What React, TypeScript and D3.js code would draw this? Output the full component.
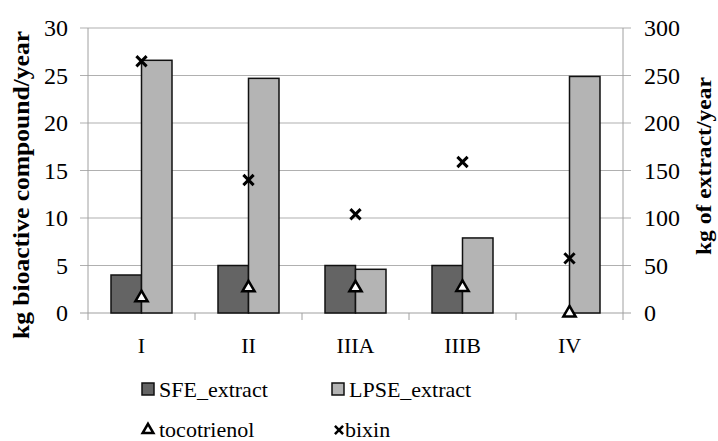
import { useEffect, useRef } from 'react';
import * as d3 from 'd3';

const categories = ['I', 'II', 'IIIA', 'IIIB', 'IV'];
const sfeExtract = [40, 50, 50, 50, 0];
const lpseExtract = [266, 247, 46, 79, 249];
const tocotrienol = [1.6, 2.65, 2.65, 2.7, 0];
const bixin = [26.5, 14.0, 10.4, 15.9, 5.75];
const leftTicks = [0, 5, 10, 15, 20, 25, 30];
const rightTicks = [0, 50, 100, 150, 200, 250, 300];

const App = () => {
	const ref = useRef<SVGSVGElement>(null);

	useEffect(() => {
		const width = 718,
			height = 441;
		const margin = { top: 28, right: 95, bottom: 128, left: 88 };
		const svg = d3.select(ref.current).attr('width', width).attr('height', height);
		svg.selectAll('*').remove();

		const x = d3
			.scaleBand()
			.domain(categories)
			.range([margin.left, width - margin.right]);
		const yL = d3
			.scaleLinear()
			.domain([0, 30])
			.range([height - margin.bottom, margin.top]);
		const yR = d3
			.scaleLinear()
			.domain([0, 300])
			.range([height - margin.bottom, margin.top]);
		const x0 = margin.left,
			x1 = width - margin.right,
			y0 = yL(0);

		// gridlines
		svg
			.append('g')
			.selectAll('line')
			.data(leftTicks.slice(1))
			.join('line')
			.attr('x1', x0 - 8)
			.attr('x2', x1 + 8)
			.attr('y1', (d) => yL(d))
			.attr('y2', (d) => yL(d))
			.attr('stroke', '#b0b0b0')
			.attr('stroke-width', 1.2);

		// axes
		const axisColor = '#a0a0a0';
		svg.append('line').attr('x1', x0).attr('x2', x0).attr('y1', yL(30)).attr('y2', y0).attr('stroke', axisColor);
		svg.append('line').attr('x1', x1).attr('x2', x1).attr('y1', yL(30)).attr('y2', y0).attr('stroke', axisColor);
		svg.append('line').attr('x1', x0 - 8).attr('x2', x1 + 8).attr('y1', y0).attr('y2', y0).attr('stroke', axisColor).attr('stroke-width', 1.2);

		// category ticks
		const bounds = categories.map((c) => x(c)!).concat([x1]);
		svg
			.append('g')
			.selectAll('line')
			.data(bounds)
			.join('line')
			.attr('x1', (d) => d)
			.attr('x2', (d) => d)
			.attr('y1', y0)
			.attr('y2', y0 + 7)
			.attr('stroke', axisColor);

		// tick labels
		svg
			.append('g')
			.selectAll('text')
			.data(leftTicks)
			.join('text')
			.attr('x', x0 - 20)
			.attr('y', (d) => yL(d))
			.attr('dy', '0.35em')
			.attr('text-anchor', 'end')
			.attr('font-size', 24)
			.text((d) => d);
		svg
			.append('g')
			.selectAll('text')
			.data(rightTicks)
			.join('text')
			.attr('x', x1 + 21)
			.attr('y', (d) => yR(d))
			.attr('dy', '0.35em')
			.attr('text-anchor', 'start')
			.attr('font-size', 24)
			.text((d) => d);
		svg
			.append('g')
			.selectAll('text')
			.data(categories)
			.join('text')
			.attr('x', (d) => x(d)! + x.bandwidth() / 2)
			.attr('y', y0 + 32)
			.attr('dy', '0.35em')
			.attr('text-anchor', 'middle')
			.attr('font-size', 22)
			.text((d) => d);

		// axis titles
		svg
			.append('text')
			.attr('transform', `translate(29, 185) rotate(-90)`)
			.attr('text-anchor', 'middle')
			.attr('font-weight', 'bold')
			.attr('font-size', 24)
			.attr('textLength', 308)
			.attr('lengthAdjust', 'spacingAndGlyphs')
			.text('kg bioactive compound/year');
		svg
			.append('text')
			.attr('transform', `translate(711, 166) rotate(-90)`)
			.attr('text-anchor', 'middle')
			.attr('font-weight', 'bold')
			.attr('font-size', 22)
			.attr('textLength', 178)
			.attr('lengthAdjust', 'spacingAndGlyphs')
			.text('kg of extract/year');

		// bars
		const barW = 30.5;
		const bars = svg.append('g');
		categories.forEach((c, i) => {
			const cx = x(c)! + x.bandwidth() / 2;
			if (sfeExtract[i] > 0) {
				bars
					.append('rect')
					.attr('x', cx - barW)
					.attr('y', yR(sfeExtract[i]))
					.attr('width', barW)
					.attr('height', y0 - yR(sfeExtract[i]))
					.attr('fill', '#646464')
					.attr('stroke', '#111')
					.attr('stroke-width', 1.5);
			}
			bars
				.append('rect')
				.attr('x', cx)
				.attr('y', yR(lpseExtract[i]))
				.attr('width', barW)
				.attr('height', y0 - yR(lpseExtract[i]))
				.attr('fill', '#b4b4b4')
				.attr('stroke', '#111')
				.attr('stroke-width', 1.5);
		});

		const tri = d3.symbol().type(d3.symbolTriangle).size(65);
		const cross = d3.symbol().type(d3.symbolX).size(70);

		// markers
		svg
			.append('g')
			.selectAll('path')
			.data(tocotrienol)
			.join('path')
			.attr('transform', (d, i) => `translate(${x(categories[i])! + x.bandwidth() / 2}, ${yL(d)})`)
			.attr('d', tri)
			.attr('fill', '#fff')
			.attr('stroke', '#000')
			.attr('stroke-width', 2.5);
		svg
			.append('g')
			.selectAll('path')
			.data(bixin)
			.join('path')
			.attr('transform', (d, i) => `translate(${x(categories[i])! + x.bandwidth() / 2}, ${yL(d)})`)
			.attr('d', cross)
			.attr('fill', 'none')
			.attr('stroke', '#000')
			.attr('stroke-width', 3);

		// legend
		const leg = svg.append('g').attr('font-size', 22);
		const items = [
			{ label: 'SFE_extract', kind: 'rect', fill: '#646464', x: 142, y: 389 },
			{ label: 'LPSE_extract', kind: 'rect', fill: '#b4b4b4', x: 332, y: 389 },
			{ label: 'tocotrienol', kind: 'tri', fill: '#fff', x: 142, y: 429 },
			{ label: 'bixin', kind: 'x', fill: '#000', x: 335, y: 429 },
		];
		items.forEach((it) => {
			if (it.kind === 'rect') {
				leg
					.append('rect')
					.attr('x', it.x)
					.attr('y', it.y - 6)
					.attr('width', 12)
					.attr('height', 12)
					.attr('fill', it.fill)
					.attr('stroke', '#111')
					.attr('stroke-width', 1.5);
			} else if (it.kind === 'tri') {
				leg
					.append('path')
					.attr('transform', `translate(${it.x + 6}, ${it.y + 1})`)
					.attr('d', d3.symbol().type(d3.symbolTriangle).size(50)())
					.attr('fill', '#fff')
					.attr('stroke', '#000')
					.attr('stroke-width', 2.5);
			} else {
				leg
					.append('path')
					.attr('transform', `translate(${it.x + 4}, ${it.y + 1})`)
					.attr('d', d3.symbol().type(d3.symbolX).size(45)())
					.attr('fill', 'none')
					.attr('stroke', '#000')
					.attr('stroke-width', 2.5);
			}
			leg
				.append('text')
				.attr('x', it.x + (it.kind === 'x' ? 10 : 17))
				.attr('y', it.y)
				.attr('dy', '0.35em')
				.text(it.label);
		});
	}, []);

	return (
		<svg
			ref={ref}
			style={{
				position: 'absolute',
				left: 0,
				top: 0,
				fontFamily: "'Liberation Serif', 'Times New Roman', serif",
			}}
		/>
	);
};

export default App;
